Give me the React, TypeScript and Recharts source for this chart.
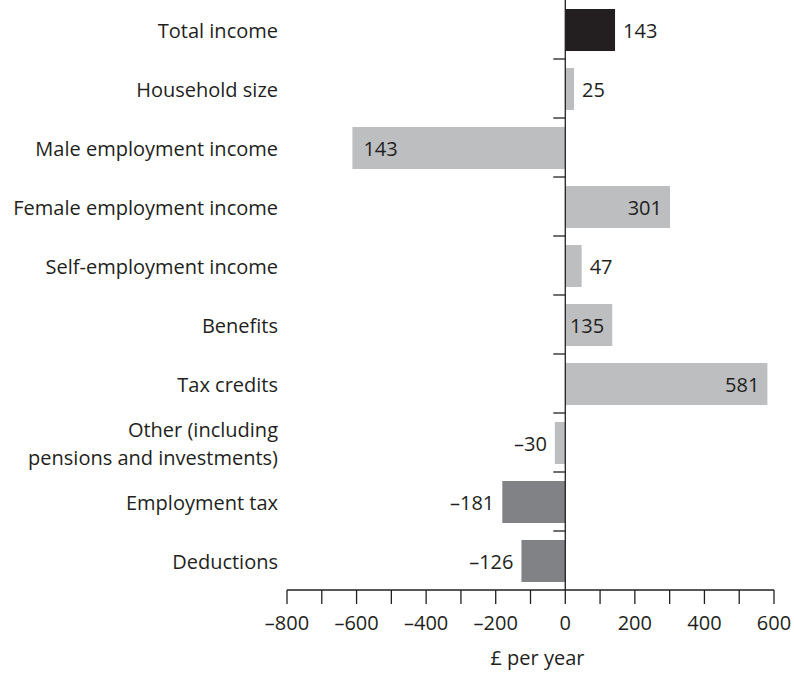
import React from 'react';
import { BarChart, Bar, XAxis, YAxis, Cell, LabelList, ReferenceLine } from 'recharts';

const categories = [
  'Total income',
  'Household size',
  'Male employment income',
  'Female employment income',
  'Self-employment income',
  'Benefits',
  'Tax credits',
  'Other (including|pensions and investments)',
  'Employment tax',
  'Deductions',
];
const values = [143, 25, -612, 301, 47, 135, 581, -30, -181, -126];
const valueLabels = ['143', '25', '143', '301', '47', '135', '581', '\u201330', '\u2013181', '\u2013126'];
const labelInside = [false, false, true, true, false, true, true, false, false, false];
const groups = ['total', 'component', 'component', 'component', 'component', 'component', 'component', 'component', 'tax', 'tax'];
const xTicks = [-800, -700, -600, -500, -400, -300, -200, -100, 0, 100, 200, 300, 400, 500, 600];
const xLabelTicks = [-800, -600, -400, -200, 0, 200, 400, 600];
const X_DOMAIN: [number, number] = [-800, 600];

const groupColors: Record<string, string> = {
  total: '#231f20',
  component: '#bcbec0',
  tax: '#808285',
};

const data = categories.map((c, i) => ({ name: c, value: values[i] }));

const W = 794;
const H = 673;
const MARGIN = { top: 0, right: 20, bottom: 0, left: 0 };
const Y_W = 287;
const X_H = 83;
const PLOT_LEFT = MARGIN.left + Y_W;
const PLOT_W = W - MARGIN.right - PLOT_LEFT;
const PLOT_H = H - MARGIN.top - MARGIN.bottom - X_H;
const BAND = PLOT_H / categories.length;
const ZERO_X = PLOT_LEFT + (PLOT_W * (0 - X_DOMAIN[0])) / (X_DOMAIN[1] - X_DOMAIN[0]);

const FONT = "'Open Sans', sans-serif";
const FS = 20;
const INK = '#231f20';

const fmt = (v: number) => (v < 0 ? '\u2013' + Math.abs(v) : String(v));

const YTick = (props: any) => {
  const { x, y, payload, index } = props;
  const lines = String(payload.value).split('|');
  const lh = 28;
  const start = -((lines.length - 1) * lh) / 2;
  return (
    <g>
      <text x={x} y={y} textAnchor="end" fill={INK} fontFamily={FONT} fontSize={FS}>
        {lines.map((l, i) => (
          <tspan key={i} x={x} dy={i === 0 ? start + 8 : lh}>
            {l}
          </tspan>
        ))}
      </text>
      {index > 0 ? (
        <line x1={ZERO_X - 12} x2={ZERO_X} y1={y - BAND / 2} y2={y - BAND / 2} stroke={INK} strokeWidth={1.3} />
      ) : null}
    </g>
  );
};

const XTick = (props: any) => {
  const { x, y, payload } = props;
  if (!xLabelTicks.includes(payload.value)) return null;
  return (
    <text x={x} y={y} dy={24} textAnchor="middle" fill={INK} fontFamily={FONT} fontSize={FS}>
      {fmt(payload.value)}
    </text>
  );
};

const ValueLabel = (props: any) => {
  const { x, y, width, height, index } = props;
  const left = Math.min(x, x + width);
  const right = Math.max(x, x + width);
  const v = values[index];
  const inside = labelInside[index];
  let tx = 0;
  let anchor: 'start' | 'end' = 'start';
  if (v >= 0 && !inside) {
    tx = right + 8;
    anchor = 'start';
  } else if (v >= 0 && inside) {
    tx = right - 8;
    anchor = 'end';
  } else if (v < 0 && inside) {
    tx = left + 11;
    anchor = 'start';
  } else {
    tx = left - 8;
    anchor = 'end';
  }
  const cy = Math.min(y, y + height) + Math.abs(height) / 2;
  return (
    <text x={tx} y={cy} dy={8} textAnchor={anchor} fill={INK} fontFamily={FONT} fontSize={FS}>
      {valueLabels[index]}
    </text>
  );
};

export default function App() {
  return (
    <div style={{ position: 'absolute', left: 0, top: 0, width: W, height: H, background: '#fff' }}>
      <BarChart width={W} height={H} data={data} layout="vertical" margin={MARGIN}>
        <XAxis
          type="number"
          domain={X_DOMAIN}
          ticks={xTicks}
          interval={0}
          allowDataOverflow
          height={X_H}
          tickSize={14}
          tickMargin={2}
          stroke={INK}
          strokeWidth={1.3}
          tick={<XTick />}
          label={{ value: '\u00a3 per year', position: 'insideBottom', offset: 8, dx: 7, fill: INK, fontFamily: FONT, fontSize: FS }}
        />
        <YAxis
          type="category"
          dataKey="name"
          width={Y_W}
          axisLine={false}
          tickLine={false}
          tickSize={0}
          tickMargin={9}
          interval={0}
          tick={<YTick />}
        />
        <Bar dataKey="value" barSize={42} isAnimationActive={false}>
          {data.map((d, i) => (
            <Cell key={i} fill={groupColors[groups[i]]} />
          ))}
          <LabelList dataKey="value" content={<ValueLabel />} />
        </Bar>
        <ReferenceLine x={0} stroke={INK} strokeWidth={1.3} />
      </BarChart>
    </div>
  );
}
